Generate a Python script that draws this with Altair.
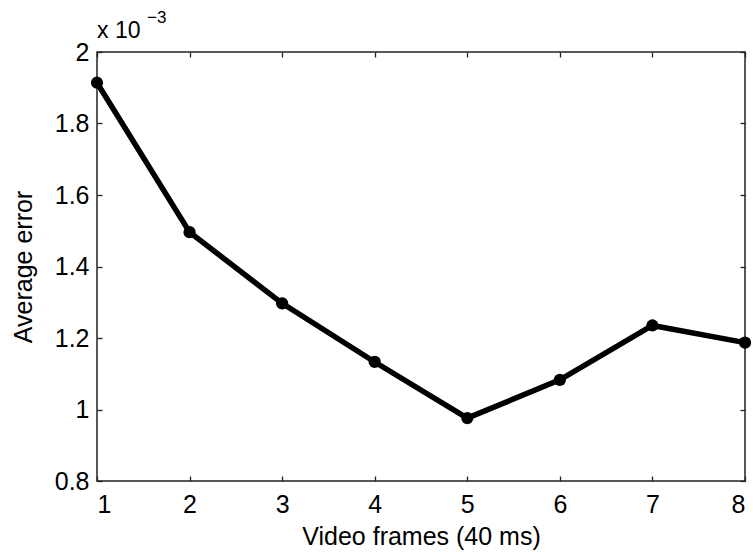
import altair as alt
import pandas as pd

# Average error (in units of 1e-3) per number of video frames
frames = [1, 2, 3, 4, 5, 6, 7, 8]
avg_error = [1.914, 1.496, 1.297, 1.133, 0.976, 1.083, 1.235, 1.187]

x_ticks = [1, 2, 3, 4, 5, 6, 7, 8]
y_ticks = [0.8, 1.0, 1.2, 1.4, 1.6, 1.8, 2.0]

df = pd.DataFrame({"frames": frames, "err": avg_error})

FONT = "Liberation Sans"
FS = 25

x_scale = alt.Scale(domain=[1, 8], nice=False, zero=False)
y_scale = alt.Scale(domain=[0.8, 2.0], nice=False, zero=False)

# inward-pointing ticks: shift each axis into the plot by its tick length
common_axis = dict(
    domain=False, tickSize=5, offset=-5, tickColor="#222222", tickWidth=1.3,
    labelFont=FONT, labelFontSize=FS, labelColor="black",
    titleFont=FONT, titleFontSize=FS, titleFontWeight="normal", titleColor="black",
    grid=False,
)

x_axis = alt.Axis(values=x_ticks, format="d", labelPadding=11,
                  title="Video frames (40 ms)", titlePadding=7, **common_axis)
y_axis = alt.Axis(values=y_ticks, format="~g", labelPadding=8,
                  title="Average error", titlePadding=18, **common_axis)

x_axis2 = alt.Axis(values=x_ticks, orient="top", labels=False, title=None, **common_axis)
y_axis2 = alt.Axis(values=y_ticks, orient="right", labels=False, title=None, **common_axis)

line = alt.Chart(df).mark_line(color="black", strokeWidth=5.5).encode(
    x=alt.X("frames:Q", scale=x_scale, axis=x_axis),
    y=alt.Y("err:Q", scale=y_scale, axis=y_axis),
)

points = alt.Chart(df).mark_point(filled=True, color="black", size=150, opacity=1).encode(
    x=alt.X("frames:Q", scale=x_scale, axis=x_axis2),
    y=alt.Y("err:Q", scale=y_scale, axis=y_axis2),
)

# exponent annotation above the y axis
mult = alt.Chart(df.head(1)).mark_text(
    text="x 10", font=FONT, fontSize=23, align="left", baseline="alphabetic", color="black"
).encode(x=alt.value(0), y=alt.value(-14))

expo = alt.Chart(df.head(1)).mark_text(
    text="\u22123", font=FONT, fontSize=17, align="left", baseline="alphabetic", color="black"
).encode(x=alt.value(50), y=alt.value(-29))

chart = (
    alt.layer(line, points, mult, expo)
    .resolve_axis(x="independent", y="independent")
    .properties(
        width=648, height=429,
        autosize=alt.AutoSizeParams(type="none"),
        padding={"left": 97, "top": 52, "right": 8, "bottom": 71},
        background="white",
    )
    .configure_view(stroke="#222222", strokeWidth=1.5)
)

chart.save("out.html", embed_options={"renderer": "svg", "actions": False})
